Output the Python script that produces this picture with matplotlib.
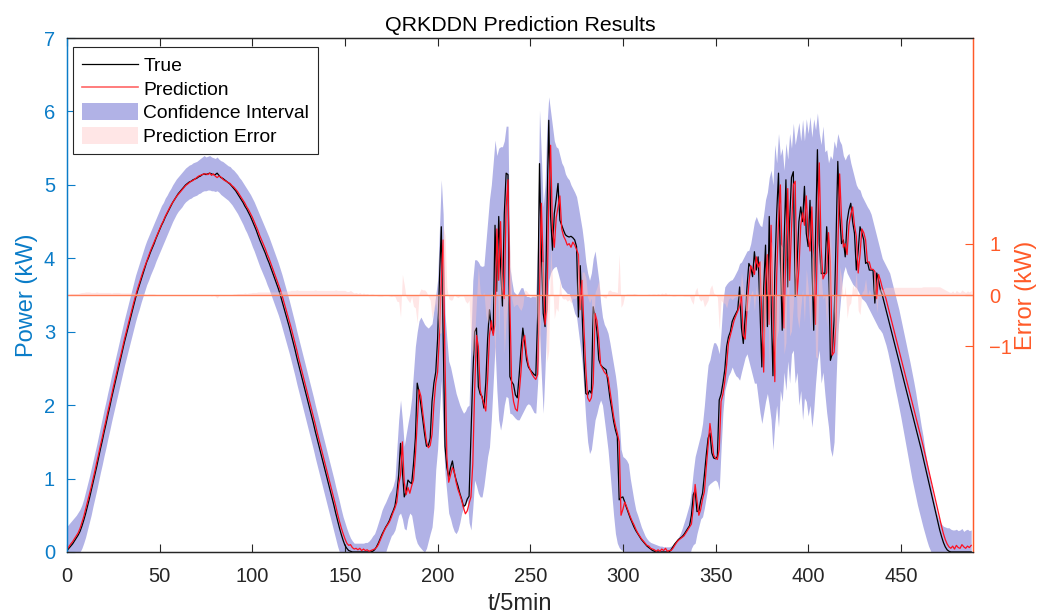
import numpy as np
import matplotlib
matplotlib.use('Agg')
import matplotlib.pyplot as plt
from matplotlib.lines import Line2D
from matplotlib.patches import Patch

# ---------------- data (one value per time step) ----------------
true_kw = [
    0.02, 0.05, 0.08, 0.11, 0.15, 0.19, 0.23, 0.28, 0.35, 0.43,
    0.52, 0.62, 0.72, 0.83, 0.94, 1.05, 1.16, 1.28, 1.40, 1.51,
    1.63, 1.74, 1.86, 1.97, 2.09, 2.20, 2.31, 2.42, 2.53, 2.64,
    2.75, 2.86, 2.96, 3.06, 3.16, 3.26, 3.36, 3.46, 3.55, 3.63,
    3.71, 3.79, 3.87, 3.95, 4.01, 4.08, 4.14, 4.20, 4.27, 4.33,
    4.39, 4.45, 4.50, 4.56, 4.61, 4.66, 4.71, 4.76, 4.80, 4.84,
    4.88, 4.91, 4.94, 4.97, 5.00, 5.02, 5.04, 5.05, 5.07, 5.08,
    5.09, 5.11, 5.12, 5.14, 5.15, 5.14, 5.15, 5.16, 5.15, 5.14,
    5.14, 5.16, 5.13, 5.10, 5.09, 5.07, 5.05, 5.03, 5.01, 4.98,
    4.95, 4.92, 4.88, 4.84, 4.80, 4.76, 4.71, 4.67, 4.62, 4.57,
    4.51, 4.45, 4.39, 4.32, 4.25, 4.19, 4.13, 4.07, 4.00, 3.94,
    3.87, 3.80, 3.73, 3.66, 3.59, 3.51, 3.42, 3.33, 3.24, 3.15,
    3.06, 2.96, 2.86, 2.76, 2.65, 2.55, 2.45, 2.35, 2.25, 2.15,
    2.05, 1.95, 1.85, 1.75, 1.64, 1.54, 1.44, 1.34, 1.24, 1.14,
    1.04, 0.94, 0.84, 0.74, 0.64, 0.53, 0.43, 0.33, 0.24, 0.16,
    0.09, 0.05, 0.02, 0.01, 0.00, 0.00, 0.00, 0.00, 0.00, 0.00,
    0.00, 0.00, 0.00, 0.00, 0.00, 0.01, 0.03, 0.07, 0.12, 0.18,
    0.24, 0.29, 0.34, 0.38, 0.43, 0.50, 0.56, 0.63, 0.80, 1.05,
    1.48, 1.10, 0.75, 0.82, 0.98, 0.95, 0.93, 1.20, 1.55, 2.30,
    2.18, 2.00, 1.80, 1.60, 1.44, 1.45, 1.55, 2.05, 2.30, 2.45,
    2.90, 3.70, 4.43, 2.90, 1.44, 1.15, 1.02, 1.15, 1.24, 1.08,
    0.98, 0.90, 0.80, 0.72, 0.62, 0.64, 0.72, 0.76, 1.60, 2.40,
    3.00, 3.05, 2.25, 2.15, 2.12, 1.96, 2.30, 2.90, 3.30, 3.05,
    2.98, 4.45, 3.55, 4.57, 3.90, 3.35, 4.60, 5.16, 5.14, 2.39,
    2.32, 2.28, 2.14, 2.10, 2.40, 2.75, 3.05, 2.85, 2.62, 2.52,
    2.48, 2.45, 2.42, 2.40, 3.20, 5.29, 4.10, 3.25, 3.07, 4.60,
    5.88, 4.57, 4.11, 4.61, 4.80, 5.02, 4.52, 4.45, 4.38, 4.32,
    4.30, 4.29, 4.30, 4.28, 4.25, 4.16, 3.20, 3.90, 3.25, 2.60,
    2.16, 2.14, 2.20, 2.16, 3.34, 3.20, 3.00, 2.62, 2.55, 2.52,
    2.50, 2.48, 2.30, 2.10, 1.95, 1.78, 1.66, 1.57, 0.71, 0.74,
    0.75, 0.68, 0.60, 0.53, 0.46, 0.40, 0.34, 0.29, 0.25, 0.21,
    0.17, 0.14, 0.11, 0.08, 0.06, 0.04, 0.02, 0.01, 0.00, 0.00,
    0.00, 0.00, 0.00, 0.00, 0.00, 0.00, 0.03, 0.07, 0.11, 0.14,
    0.17, 0.19, 0.21, 0.24, 0.28, 0.32, 0.36, 0.50, 0.78, 0.84,
    0.55, 0.56, 0.70, 0.80, 1.05, 1.32, 1.55, 1.62, 1.35, 1.28,
    1.27, 1.30, 2.07, 2.15, 2.30, 2.48, 2.80, 2.93, 3.00, 3.14,
    3.20, 3.25, 3.30, 3.61, 3.05, 2.84, 3.20, 3.61, 3.93, 3.88,
    3.75, 4.09, 3.84, 4.02, 3.30, 2.52, 3.60, 4.18, 3.07, 4.57,
    3.40, 2.40, 3.80, 4.60, 5.16, 4.00, 3.02, 4.20, 5.07, 3.61,
    4.50, 5.10, 5.18, 3.48, 3.90, 4.50, 4.70, 4.50, 4.98, 4.34,
    4.16, 4.79, 4.00, 3.02, 4.30, 5.48, 4.20, 3.79, 3.80, 3.79,
    4.43, 4.00, 2.61, 2.70, 3.16, 4.20, 5.32, 4.60, 4.20, 4.25,
    4.02, 4.50, 4.66, 4.75, 4.50, 4.34, 3.84, 4.10, 4.43, 4.35,
    4.25, 3.93, 3.95, 3.84, 3.84, 3.84, 3.39, 3.80, 3.70, 3.57,
    3.50, 3.40, 3.30, 3.20, 3.10, 3.00, 2.90, 2.80, 2.70, 2.60,
    2.50, 2.40, 2.30, 2.20, 2.10, 2.00, 1.90, 1.80, 1.70, 1.60,
    1.50, 1.40, 1.29, 1.18, 1.07, 0.96, 0.85, 0.74, 0.63, 0.52,
    0.41, 0.30, 0.21, 0.13, 0.07, 0.03, 0.01, 0.00, 0.00, 0.00,
    0.00, 0.00, 0.00, 0.00, 0.00, 0.00, 0.00, 0.00, 0.00,
]

pred_kw = [
    0.04, 0.07, 0.11, 0.14, 0.18, 0.22, 0.26, 0.32, 0.40, 0.48,
    0.58, 0.68, 0.78, 0.88, 0.99, 1.10, 1.22, 1.33, 1.45, 1.56,
    1.68, 1.79, 1.91, 2.02, 2.13, 2.25, 2.36, 2.47, 2.58, 2.68,
    2.79, 2.90, 3.00, 3.10, 3.20, 3.30, 3.40, 3.49, 3.58, 3.66,
    3.74, 3.82, 3.89, 3.96, 4.03, 4.10, 4.16, 4.22, 4.28, 4.34,
    4.40, 4.46, 4.51, 4.57, 4.62, 4.67, 4.72, 4.76, 4.80, 4.84,
    4.87, 4.90, 4.93, 4.96, 4.99, 5.01, 5.03, 5.05, 5.06, 5.08,
    5.10, 5.12, 5.13, 5.14, 5.15, 5.15, 5.14, 5.16, 5.13, 5.15,
    5.12, 5.10, 5.12, 5.11, 5.08, 5.06, 5.05, 5.03, 5.02, 4.99,
    4.97, 4.94, 4.91, 4.87, 4.83, 4.79, 4.75, 4.70, 4.66, 4.61,
    4.56, 4.50, 4.44, 4.38, 4.31, 4.25, 4.19, 4.13, 4.06, 4.00,
    3.93, 3.86, 3.79, 3.72, 3.65, 3.58, 3.50, 3.41, 3.32, 3.23,
    3.14, 3.05, 2.95, 2.85, 2.75, 2.64, 2.54, 2.44, 2.34, 2.24,
    2.14, 2.04, 1.94, 1.84, 1.74, 1.63, 1.53, 1.43, 1.33, 1.23,
    1.13, 1.03, 0.93, 0.83, 0.73, 0.63, 0.52, 0.42, 0.33, 0.25,
    0.18, 0.12, 0.09, 0.10, 0.06, 0.04, 0.05, 0.03, 0.05, 0.02,
    0.04, 0.02, 0.03, 0.01, 0.02, 0.03, 0.04, 0.06, 0.10, 0.16,
    0.22, 0.28, 0.33, 0.37, 0.41, 0.47, 0.54, 0.60, 0.68, 0.92,
    1.05, 1.50, 0.95, 0.78, 0.88, 0.80, 0.90, 0.98, 1.30, 1.75,
    2.21, 2.12, 1.90, 1.70, 1.50, 1.42, 1.45, 1.60, 2.00, 2.30,
    2.45, 2.95, 3.70, 4.25, 2.60, 1.30, 0.95, 1.05, 1.15, 1.10,
    0.95, 0.85, 0.78, 0.70, 0.60, 0.52, 0.56, 0.66, 0.75, 1.20,
    2.20, 2.95, 2.80, 2.20, 2.10, 2.02, 1.92, 2.35, 2.95, 3.15,
    2.95, 3.10, 4.40, 3.70, 4.50, 3.60, 3.45, 4.70, 5.07, 3.40,
    2.25, 2.05, 1.95, 1.92, 2.15, 2.45, 2.85, 2.95, 2.70, 2.55,
    2.48, 2.42, 2.38, 2.35, 2.42, 3.50, 4.75, 3.90, 3.10, 3.30,
    4.80, 5.54, 4.40, 4.15, 4.55, 4.70, 4.85, 4.40, 4.30, 4.25,
    4.18, 4.20, 4.15, 4.22, 4.18, 4.12, 4.05, 3.30, 3.70, 3.05,
    2.50, 2.10, 2.05, 2.10, 2.30, 3.25, 3.15, 2.90, 2.55, 2.50,
    2.45, 2.42, 2.38, 2.20, 2.02, 1.85, 1.72, 1.62, 1.50, 0.50,
    0.58, 0.68, 0.62, 0.55, 0.48, 0.42, 0.37, 0.31, 0.26, 0.22,
    0.18, 0.15, 0.12, 0.09, 0.08, 0.05, 0.04, 0.03, 0.01, 0.03,
    0.01, 0.04, 0.02, 0.05, 0.01, 0.02, 0.02, 0.05, 0.09, 0.13,
    0.16, 0.18, 0.20, 0.22, 0.26, 0.30, 0.34, 0.38, 0.60, 0.92,
    0.70, 0.50, 0.58, 0.72, 0.82, 1.15, 1.45, 1.75, 1.55, 1.32,
    1.28, 1.26, 1.40, 2.05, 2.15, 2.32, 2.55, 2.85, 2.95, 3.05,
    3.15, 3.22, 3.28, 3.35, 3.50, 2.95, 2.90, 3.30, 3.65, 3.90,
    3.85, 3.78, 4.02, 3.88, 3.95, 3.20, 2.45, 3.65, 4.05, 3.10,
    4.45, 3.30, 2.32, 3.75, 4.50, 5.00, 3.95, 3.05, 4.15, 4.95,
    3.70, 4.40, 5.00, 5.05, 3.50, 3.85, 4.45, 4.62, 4.45, 4.85,
    4.30, 4.10, 4.70, 3.95, 3.10, 4.25, 5.30, 4.15, 3.72, 3.78,
    3.80, 4.35, 3.95, 2.68, 2.72, 3.10, 4.15, 5.15, 4.55, 4.15,
    4.20, 4.05, 4.45, 4.60, 4.70, 4.45, 4.30, 3.80, 4.05, 4.40,
    4.35, 4.25, 3.95, 3.95, 3.85, 3.85, 3.82, 3.45, 3.78, 3.70,
    3.60, 3.53, 3.45, 3.35, 3.25, 3.15, 3.05, 2.95, 2.85, 2.75,
    2.65, 2.55, 2.45, 2.35, 2.25, 2.15, 2.05, 1.95, 1.85, 1.75,
    1.65, 1.55, 1.45, 1.34, 1.23, 1.12, 1.01, 0.90, 0.79, 0.68,
    0.57, 0.46, 0.35, 0.25, 0.17, 0.11, 0.07, 0.05, 0.08, 0.04,
    0.09, 0.06, 0.05, 0.10, 0.07, 0.05, 0.08, 0.06, 0.09,
]

ci_upper = [
    0.35, 0.38, 0.41, 0.44, 0.47, 0.50, 0.54, 0.58, 0.64, 0.72,
    0.82, 0.92, 1.02, 1.13, 1.24, 1.35, 1.46, 1.58, 1.70, 1.82,
    1.94, 2.05, 2.17, 2.28, 2.40, 2.51, 2.62, 2.73, 2.84, 2.95,
    3.06, 3.17, 3.27, 3.37, 3.47, 3.57, 3.67, 3.77, 3.85, 3.93,
    4.01, 4.09, 4.17, 4.24, 4.30, 4.36, 4.42, 4.48, 4.54, 4.60,
    4.66, 4.72, 4.76, 4.82, 4.86, 4.91, 4.95, 5.00, 5.04, 5.08,
    5.11, 5.14, 5.17, 5.20, 5.23, 5.25, 5.27, 5.28, 5.30, 5.31,
    5.32, 5.34, 5.36, 5.38, 5.40, 5.38, 5.39, 5.40, 5.38, 5.37,
    5.36, 5.38, 5.35, 5.33, 5.32, 5.30, 5.28, 5.26, 5.25, 5.22,
    5.20, 5.17, 5.14, 5.10, 5.07, 5.03, 4.99, 4.95, 4.91, 4.87,
    4.82, 4.77, 4.71, 4.65, 4.59, 4.53, 4.47, 4.41, 4.35, 4.29,
    4.22, 4.15, 4.08, 4.01, 3.94, 3.86, 3.78, 3.69, 3.60, 3.51,
    3.42, 3.32, 3.22, 3.12, 3.01, 2.91, 2.81, 2.71, 2.61, 2.51,
    2.41, 2.31, 2.21, 2.11, 2.00, 1.90, 1.80, 1.70, 1.60, 1.50,
    1.40, 1.30, 1.20, 1.10, 1.00, 0.89, 0.79, 0.69, 0.58, 0.48,
    0.40, 0.32, 0.25, 0.19, 0.15, 0.12, 0.12, 0.12, 0.12, 0.12,
    0.12, 0.13, 0.13, 0.15, 0.18, 0.22, 0.25, 0.32, 0.40, 0.48,
    0.57, 0.63, 0.68, 0.74, 0.80, 0.84, 0.90, 1.00, 1.40, 1.80,
    2.07, 1.80, 1.44, 1.60, 1.75, 1.89, 2.10, 2.45, 2.80, 3.00,
    3.15, 3.20, 3.15, 3.10, 3.07, 3.05, 3.08, 3.11, 3.30, 3.50,
    3.70, 4.40, 5.07, 4.60, 3.25, 2.90, 2.60, 2.52, 2.40, 2.28,
    2.16, 2.08, 2.00, 1.94, 1.89, 1.92, 1.98, 2.00, 2.90, 3.70,
    3.98, 3.98, 3.95, 3.90, 3.89, 3.90, 4.20, 4.50, 4.80, 5.00,
    5.30, 5.61, 5.40, 5.50, 5.52, 5.52, 5.60, 5.80, 5.80, 3.89,
    3.70, 3.55, 3.52, 3.50, 3.55, 3.60, 3.60, 3.52, 3.48, 3.48,
    3.47, 3.48, 3.48, 3.48, 4.20, 6.02, 5.40, 4.70, 5.00, 5.80,
    6.20, 6.00, 5.80, 5.60, 5.52, 5.50, 5.40, 5.30, 5.25, 5.15,
    5.10, 5.07, 5.00, 4.95, 4.90, 4.84, 4.70, 4.55, 4.40, 4.20,
    3.95, 3.80, 3.70, 3.80, 4.00, 4.10, 3.90, 3.70, 3.40, 3.20,
    3.10, 3.05, 2.98, 2.85, 2.70, 2.55, 2.40, 2.20, 1.80, 1.40,
    1.30, 1.28, 1.25, 1.20, 1.00, 0.85, 0.70, 0.57, 0.50, 0.42,
    0.34, 0.28, 0.22, 0.18, 0.15, 0.13, 0.12, 0.11, 0.10, 0.09,
    0.08, 0.08, 0.07, 0.07, 0.07, 0.07, 0.08, 0.10, 0.13, 0.17,
    0.20, 0.25, 0.32, 0.40, 0.48, 0.57, 0.66, 0.85, 1.10, 1.30,
    1.40, 1.50, 1.60, 1.75, 2.00, 2.30, 2.55, 2.62, 2.75, 2.85,
    2.85, 2.80, 2.70, 3.00, 3.40, 3.61, 3.65, 3.68, 3.70, 3.71,
    3.75, 3.80, 3.85, 3.93, 3.95, 4.00, 4.05, 4.10, 4.11, 4.20,
    4.35, 4.50, 4.57, 4.50, 4.45, 4.43, 4.60, 4.80, 4.90, 5.10,
    5.20, 5.00, 5.55, 5.30, 5.70, 5.40, 5.50, 5.20, 5.57, 5.35,
    5.70, 5.50, 5.84, 5.55, 5.70, 5.85, 5.60, 5.89, 5.60, 5.90,
    5.70, 5.93, 5.65, 5.90, 5.75, 5.98, 5.70, 5.55, 5.80, 5.45,
    5.48, 5.30, 5.40, 5.35, 5.60, 5.50, 5.70, 5.60, 5.55, 5.40,
    5.34, 5.40, 5.43, 5.30, 5.20, 5.10, 5.00, 4.95, 4.93, 4.85,
    4.80, 4.75, 4.70, 4.66, 4.60, 4.50, 4.40, 4.30, 4.20, 4.10,
    4.00, 3.95, 3.90, 3.85, 3.80, 3.70, 3.60, 3.50, 3.40, 3.30,
    3.18, 3.06, 2.94, 2.82, 2.70, 2.58, 2.45, 2.32, 2.18, 2.02,
    1.88, 1.72, 1.58, 1.40, 1.25, 1.10, 0.95, 0.82, 0.70, 0.58,
    0.48, 0.42, 0.38, 0.35, 0.34, 0.33, 0.33, 0.31, 0.30, 0.30,
    0.31, 0.29, 0.30, 0.32, 0.28, 0.30, 0.31, 0.29, 0.30,
]

ci_lower = [
    -0.25, -0.22, -0.18, -0.15, -0.12, -0.08, -0.05, 0.00, 0.05, 0.12,
    0.20, 0.30, 0.40, 0.50, 0.62, 0.73, 0.84, 0.96, 1.08, 1.19,
    1.31, 1.42, 1.54, 1.65, 1.77, 1.88, 1.99, 2.10, 2.21, 2.32,
    2.43, 2.54, 2.64, 2.74, 2.84, 2.94, 3.04, 3.14, 3.23, 3.31,
    3.40, 3.48, 3.56, 3.64, 3.70, 3.77, 3.83, 3.89, 3.96, 4.02,
    4.08, 4.14, 4.20, 4.26, 4.32, 4.38, 4.44, 4.50, 4.55, 4.60,
    4.64, 4.67, 4.70, 4.74, 4.77, 4.79, 4.81, 4.82, 4.84, 4.85,
    4.86, 4.88, 4.89, 4.91, 4.92, 4.92, 4.93, 4.93, 4.92, 4.92,
    4.91, 4.92, 4.90, 4.87, 4.85, 4.83, 4.81, 4.79, 4.76, 4.73,
    4.69, 4.65, 4.61, 4.56, 4.51, 4.46, 4.40, 4.35, 4.29, 4.23,
    4.16, 4.10, 4.03, 3.96, 3.89, 3.83, 3.77, 3.71, 3.64, 3.58,
    3.51, 3.44, 3.37, 3.30, 3.23, 3.15, 3.06, 2.97, 2.88, 2.79,
    2.70, 2.60, 2.50, 2.40, 2.29, 2.19, 2.09, 1.99, 1.89, 1.79,
    1.69, 1.59, 1.49, 1.39, 1.28, 1.18, 1.08, 0.98, 0.88, 0.78,
    0.68, 0.58, 0.48, 0.38, 0.28, 0.18, 0.08, 0.00, -0.05, -0.05,
    -0.05, -0.05, -0.05, -0.05, -0.05, -0.05, -0.05, -0.05, -0.05, -0.05,
    -0.05, -0.05, -0.05, -0.05, -0.05, -0.05, -0.05, -0.05, -0.05, -0.05,
    -0.05, -0.05, 0.00, 0.08, 0.15, 0.22, 0.25, 0.30, 0.40, 0.50,
    0.53, 0.45, 0.32, 0.30, 0.45, 0.53, 0.50, 0.35, 0.20, 0.12,
    0.08, 0.05, 0.02, 0.00, 0.05, 0.15, 0.25, 0.34, 0.60, 1.12,
    1.40, 1.90, 2.34, 1.60, 1.07, 0.80, 0.53, 0.45, 0.35, 0.28,
    0.25, 0.30, 0.40, 0.53, 0.60, 0.65, 0.71, 0.40, 0.30, 0.60,
    0.98, 0.90, 0.80, 0.75, 0.75, 0.90, 1.10, 1.30, 1.43, 1.80,
    2.30, 2.80, 2.20, 1.80, 1.66, 1.80, 2.00, 2.12, 2.10, 1.89,
    1.88, 1.85, 1.82, 1.80, 1.80, 1.85, 1.90, 1.95, 2.00, 2.02,
    2.00, 1.95, 1.90, 1.89, 2.30, 2.98, 2.40, 1.89, 2.50, 3.20,
    3.70, 3.80, 3.85, 3.88, 3.89, 3.80, 3.70, 3.61, 3.58, 3.55,
    3.52, 3.52, 3.45, 3.35, 3.25, 3.20, 3.00, 2.80, 2.57, 2.20,
    1.80, 1.50, 1.34, 1.40, 1.60, 1.80, 1.89, 2.00, 2.07, 2.00,
    1.80, 1.60, 1.39, 1.10, 0.80, 0.50, 0.25, 0.12, 0.06, 0.03,
    0.02, -0.05, -0.05, -0.05, -0.05, -0.05, -0.05, -0.05, -0.05, -0.05,
    -0.05, -0.05, -0.05, -0.05, -0.05, -0.05, -0.05, -0.05, -0.05, -0.05,
    -0.05, -0.05, -0.05, -0.05, -0.05, -0.05, -0.05, -0.05, -0.05, -0.05,
    -0.05, -0.05, -0.05, -0.05, -0.05, -0.05, -0.05, 0.05, 0.10, 0.12,
    0.25, 0.35, 0.45, 0.48, 0.60, 0.75, 0.90, 0.93, 0.95, 0.97,
    0.98, 0.95, 0.84, 1.40, 1.90, 2.20, 2.30, 2.40, 2.45, 2.52,
    2.45, 2.40, 2.38, 2.34, 2.45, 2.55, 2.65, 2.70, 2.60, 2.50,
    2.40, 2.30, 2.30, 2.10, 1.90, 1.75, 1.90, 2.05, 2.16, 2.00,
    1.80, 1.39, 1.75, 2.00, 1.70, 2.20, 2.05, 2.45, 2.20, 2.60,
    2.30, 2.70, 2.75, 2.30, 2.45, 2.00, 2.20, 1.80, 2.10, 2.05,
    1.85, 2.00, 1.70, 1.93, 2.30, 2.60, 2.75, 2.30, 2.45, 2.16,
    1.90, 1.70, 1.40, 1.30, 1.50, 2.30, 2.98, 3.30, 3.60, 3.80,
    3.89, 3.80, 3.75, 3.70, 3.65, 3.62, 3.60, 3.55, 3.50, 3.45,
    3.43, 3.40, 3.35, 3.30, 3.25, 3.20, 3.15, 3.10, 3.05, 3.02,
    2.98, 2.90, 2.82, 2.72, 2.60, 2.48, 2.35, 2.22, 2.10, 1.97,
    1.84, 1.70, 1.56, 1.42, 1.28, 1.14, 1.00, 0.88, 0.76, 0.64,
    0.54, 0.44, 0.34, 0.25, 0.16, 0.08, 0.02, -0.05, -0.05, -0.05,
    -0.05, -0.05, -0.05, -0.05, -0.05, -0.05, -0.05, -0.05, -0.05, -0.05,
    -0.05, -0.05, -0.05, -0.05, -0.05, -0.05, -0.05, -0.05, -0.05,
]

x_ticks = [0, 50, 100, 150, 200, 250, 300, 350, 400, 450]
left_ticks = [0, 1, 2, 3, 4, 5, 6, 7]
right_ticks = [-1, 0, 1]
legend_labels = ['True', 'Prediction', 'Confidence Interval', 'Prediction Error']

# ---------------- style ----------------
plt.rcParams['font.family'] = ['Liberation Sans', 'DejaVu Sans']
BLUE = '#0A7CC8'
ORANGE = '#FF5A28'
ZERO_LINE = '#FF7E58'
GRAY = '#262626'
BAND = '#B1B2E6'
PINK = '#FFC8C8'

n = min(len(true_kw), len(pred_kw), len(ci_upper), len(ci_lower))
t = np.arange(n)
y_true = np.array(true_kw[:n])
y_pred = np.array(pred_kw[:n])
hi = np.array(ci_upper[:n])
lo = np.array(ci_lower[:n])
err = y_pred - y_true

fig = plt.figure(figsize=(10.49, 6.14), dpi=100)
ax = fig.add_axes([0.0639, 0.101, 0.8637, 0.837])

ax.fill_between(t, lo, hi, color=BAND, lw=0, zorder=1)
ax.plot(t, y_true, color='black', lw=0.9, zorder=3)
ax.plot(t, y_pred, color='#FF1020', lw=0.9, zorder=4)
ax.set_xlim(0, 489)
ax.set_ylim(0, 7)
ax.set_xticks(x_ticks)
ax.set_yticks(left_ticks)

ax2 = ax.twinx()
ax2.fill_between(t, 0, err, color=PINK, alpha=0.45, lw=0, zorder=1)
ax2.axhline(0, color=ZERO_LINE, lw=1.0, zorder=2)
ax2.set_ylim(-5, 5)
ax2.set_yticks(right_ticks)

# spines and ticks
for a in (ax, ax2):
    a.spines['top'].set_color(GRAY)
    a.spines['bottom'].set_color(GRAY)
    a.spines['left'].set_color(BLUE)
    a.spines['right'].set_color(ORANGE)
    for s in a.spines.values():
        s.set_linewidth(0.9)
ax.tick_params(axis='x', direction='in', top=True, length=6, width=0.8,
               colors=GRAY, labelsize=14.5, pad=11)
ax.tick_params(axis='y', direction='in', length=6, width=0.8,
               colors=BLUE, labelsize=14.5, pad=8.6)
ax2.tick_params(axis='y', direction='in', length=6, width=0.8,
                colors=ORANGE, labelsize=14.5, pad=11.5)

ax.set_xlabel('t/5min', fontsize=17, color=GRAY, labelpad=5)
ax.set_ylabel('Power (kW)', fontsize=17, color=BLUE, labelpad=4)
ax2.set_ylabel('Error (kW)', fontsize=17, color=ORANGE, labelpad=2)
ax.set_title('QRKDDN Prediction Results', fontsize=15.4, color='black', pad=5)

handles = [
    Line2D([], [], color='black', lw=0.9),
    Line2D([], [], color='#FF6666', lw=1.2),
    Patch(facecolor=BAND, edgecolor='none'),
    Patch(facecolor=PINK, alpha=0.45, edgecolor='none'),
]
leg = ax2.legend(handles, legend_labels, loc='upper left',
                 bbox_to_anchor=(0.0066, 0.982), borderaxespad=0,
                 fontsize=13.9, frameon=True, fancybox=False, framealpha=1,
                 edgecolor=GRAY, handlelength=2.9, handleheight=1.0,
                 handletextpad=0.3, labelspacing=0.22, borderpad=0.45)
leg.get_frame().set_linewidth(0.8)
leg.set_zorder(10)

fig.savefig('out.png', dpi=100)
